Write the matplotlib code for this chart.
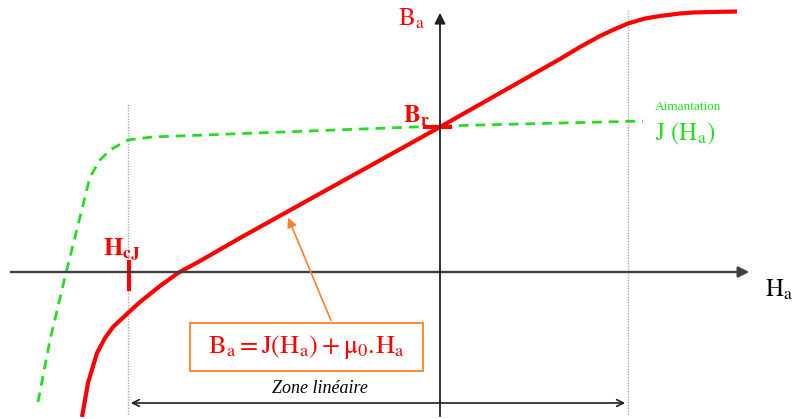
import numpy as np
import matplotlib.pyplot as plt
from matplotlib.patches import Rectangle

plt.rcParams['mathtext.fontset'] = 'stix'
plt.rcParams['font.family'] = 'Liberation Serif'

# Courbe B(H) (rouge) -- coordonnees en unites arbitraires, origine = croisement des axes
ba_h = [-358, -352, -343, -335, -327, -312, -300, -280, -262, -240, -200, -155, 0, 120, 140,
        160, 175, 188, 205, 220, 240, 253, 270, 297]
ba_b = [-145, -111, -81, -66, -55, -41, -30, -14, -1, 11, 34, 59, 145, 213, 225,
        236, 243, 248.5, 253.5, 256, 258.5, 259.5, 260, 260.5]

# Courbe J(H) (verte, pointillee)
j_h = [-402, -390, -375, -360, -350, -340, -330, -312, -288, 0, 203]
j_b = [-130, -68, -5, 55, 95, 112, 122, 132, 135, 146, 151]

# bornes de la zone lineaire, Br, HcJ
zone_h = [-312, 188]
br_b = 145
hcj_h = -311

red = '#ff0000'
green = '#22dd22'
orange = '#ff7f27'
axc = '#404040'

fig = plt.figure(figsize=(7.92, 4.19), dpi=100)
ax = fig.add_axes([0, 0, 1, 1])
ax.set_xlim(-440, 352)
ax.set_ylim(-147, 272)
ax.axis('off')

# lignes verticales pointillees
ax.plot([zone_h[0]] * 2, [-142, 169], color='#aaaaaa', lw=1, ls=(0, (1, 1)))
ax.plot([zone_h[1]] * 2, [-142, 262], color='#aaaaaa', lw=1, ls=(0, (1, 1)))

# axes
ax.annotate('', xy=(312, 0), xytext=(-432, 0),
            arrowprops=dict(arrowstyle='-|>', color=axc, lw=1.7, mutation_scale=16))
ax.annotate('', xy=(0, 262), xytext=(0, -147),
            arrowprops=dict(arrowstyle='-|>', color='#202020', lw=1.3, mutation_scale=16))

# courbes
ax.plot(j_h, j_b, color=green, lw=2, dashes=(3.5, 2.5))
ax.plot(ba_h, ba_b, color=red, lw=3, solid_capstyle='butt', solid_joinstyle='round')

# marques Br et HcJ
ax.plot([-15, 10], [br_b, br_b], color=red, lw=3)
ax.plot([hcj_h, hcj_h], [10, -17], color=red, lw=3)

# textes
ax.text(-29, 253, r'$\mathrm{B_a}$', color=red, fontsize=18, ha='center', va='center')
ax.text(-37, 150, r'$\mathbf{B_r}$', color=red, fontsize=18, ha='left', va='baseline')
ax.text(-337, 16, r'$\mathbf{H_{cJ}}$', color=red, fontsize=18, ha='left', va='baseline')
ax.text(325, -24, r'$\mathrm{H_a}$', color='black', fontsize=18, ha='left', va='baseline')
ax.text(215, 162, 'Aimantation', color=green, fontsize=9.5, ha='left', va='baseline')
ax.text(215, 132, r'$\mathrm{J\ (H_a)}$', color=green, fontsize=18, ha='left', va='baseline')

# encadre de la formule
ax.add_patch(Rectangle((-250, -99), 233, 48, fc='white', ec=orange, lw=1.3, zorder=3))
ax.text(-134, -75, r'$\mathrm{B_a = J(H_a) + \mu_0.\!H_a}$', color=red, fontsize=19,
        ha='center', va='center', zorder=4)
ax.annotate('', xy=(-153, 57), xytext=(-108, -51),
            arrowprops=dict(arrowstyle='-|>', color=orange, lw=1.2, mutation_scale=14))

# zone lineaire
ax.annotate('', xy=(zone_h[0], -131), xytext=(zone_h[1], -131),
            arrowprops=dict(arrowstyle='<->', color='#202020', lw=1.2, mutation_scale=12))
ax.text(-120, -121, 'Zone linéaire', fontsize=13, style='italic', ha='center', va='baseline')

fig.savefig('out.png', dpi=100)
